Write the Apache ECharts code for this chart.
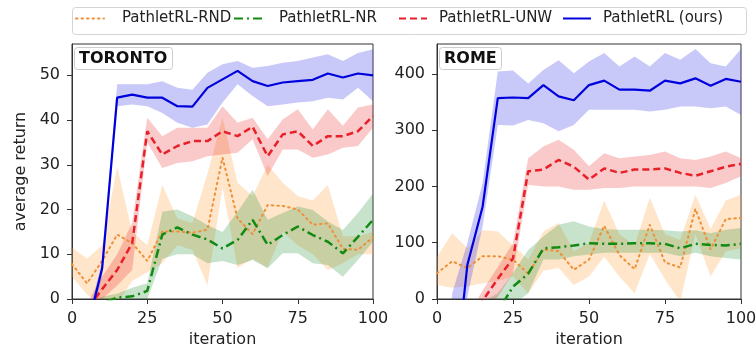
<!DOCTYPE html>
<html><head><meta charset="utf-8">
<script src="https://cdn.jsdelivr.net/npm/echarts@6/dist/echarts.min.js"></script>
<style>html,body{margin:0;padding:0;background:#fff}#c{width:756px;height:350px}</style>
</head><body><div id="c"></div><script>
// ---------- data ----------
const iterations = [0,5,10,15,20,25,30,35,40,45,50,55,60,65,70,75,80,85,90,95,100];
const xTicks = [0,25,50,75,100];
const torontoYTicks = [0,10,20,30,40,50];
const torontoYMax = 57;
const romeYTicks = [0,100,200,300,400];
const romeYMax = 453;
const methodNames = ['PathletRL-RND','PathletRL-NR','PathletRL-UNW','PathletRL (ours)'];
const panelTitles = ['TORONTO','ROME'];

// TORONTO
const torontoRnd    = [7.8,3.5,8.5,14.4,12.5,8.5,15.1,15.1,14.8,15.5,31.6,18,14.5,21,20.8,20,16.6,16.9,11.2,11,13.8];
const torontoRndLo  = [5,1,-1,-1,4,6,8,12,11,3,25,7,9,7,15,12,10,6.5,8,10,10];
const torontoRndHi  = [11.5,9,12,29.5,15,12,25.5,18,17,28,40.5,26,23,30,26,23,22,25.5,14,14,15];
const torontoNr     = [-3,-3,-1,0.3,0.6,1.8,14.4,16,14.4,13.3,11.3,13.2,17.7,12.1,14.3,16.2,14.3,12.8,10.2,13.9,17.7];
const torontoNrLo   = [-5,-5,-3,-1,-0.5,0,9,10,10,8,8.5,7.6,8.7,6.9,10.2,10.2,8,7.6,5,8.7,12.8];
const torontoNrHi   = [-1,-1,0.5,1.2,2.5,3.5,19.5,20,18.5,16.5,15,19.5,24.4,17.7,19.2,20.7,19.9,17.3,15.4,19.2,23.6];
const torontoUnw    = [-5,-2.4,2.2,6.5,12.5,37.5,32.3,34.2,35.3,35.3,37.5,36.4,38.5,31.9,36.8,37.5,34.2,36.4,36.4,37.5,40.9];
const torontoUnwLo  = [-8,-5,0,3,6.5,35,29.3,30.4,30.8,31.9,32.3,32.7,35.7,27.5,33.4,33.4,31.6,32.3,33.8,34.2,38.3];
const torontoUnwHi  = [-2,-1,5,10,17,40.5,36.4,38.3,38.3,38.3,43.1,39.4,40.5,35.7,40.1,42.4,37.9,42.4,38.7,42.8,43.5];
const torontoOurs   = [-10,-6.8,6.8,45,45.7,45,45,43.1,43,47.2,49.1,51,48.7,47.6,48.4,48.7,49,50.4,49.5,50.4,50];
const torontoOursLo = [-12,-8,5,43.1,43.5,43.1,41.6,39.4,38.3,39,43.9,48,45.4,43.1,43.5,43.9,44.2,45,44.6,47.2,44.2];
const torontoOursHi = [-8,-5,8.5,48,48,48,48.7,47.2,46.8,50.6,52.5,53.2,51.7,52.1,52.8,53.2,54,54.7,53.2,55,55.8];

// ROME
const romeRnd    = [46,67,55,76,76,70,45,88,85,52,70,130,78,53,132,65,56,160,88,142,144];
const romeRndLo  = [25,20,22,28,32,40,10,50,55,25,40,75,40,10,80,35,-5,115,40,85,90];
const romeRndHi  = [75,117,90,122,120,95,70,120,135,85,100,175,115,95,180,115,105,185,125,175,185];
const romeNr     = [-60,-55,-50,-40,-22,22,45,90,92,95,99,98,98,99,99,98,90,98,96,95,98];
const romeNrLo   = [-90,-80,-70,-60,-50,-10,10,70,70,76,79,82,82,82,82,82,76,82,76,73,70];
const romeNrHi   = [-30,-20,-10,-5,10,46,87,111,132,138,129,124,123,123,123,122,120,122,117,123,126];
const romeUnw    = [-150,-100,-50,-3,36,72,227,230,247,235,212,232,224,230,230,232,224,219,227,235,240];
const romeUnwLo  = [-200,-150,-90,-25,4,46,203,200,200,194,194,197,197,200,200,200,200,200,197,206,218];
const romeUnwHi  = [-100,-60,-30,15,57,99,250,271,283,265,236,259,250,253,256,262,250,247,253,262,250];
const romeOurs   = [-400,-190,61,164,357,358,357,380,360,353,380,388,372,372,370,388,383,392,379,391,386];
const romeOursLo = [-500,-400,5,129,309,308,318,312,298,309,336,336,336,336,333,336,342,342,339,342,327];
const romeOursHi = [-300,10,100,206,404,406,383,407,424,401,422,437,413,431,413,437,425,444,419,413,444];

// ---------- styles ----------
const FONT = 'DejaVu Sans';
const styles = [
  {line:'#ee9038', band:'rgba(255,160,60,0.28)', width:2, type:[1.5,4], cap:'round'},
  {line:'#118a11', band:'rgba(20,140,40,0.24)', width:2.5, type:[9,4,2,4], cap:'butt'},
  {line:'#e8202a', band:'rgba(235,40,40,0.25)', width:2.5, type:[7,4], cap:'butt'},
  {line:'#0000dd', band:'rgba(60,60,235,0.28)', width:2.2, type:'solid', cap:'butt'}
];

const panels = [
  {lines:[torontoRnd,torontoNr,torontoUnw,torontoOurs], lo:[torontoRndLo,torontoNrLo,torontoUnwLo,torontoOursLo], hi:[torontoRndHi,torontoNrHi,torontoUnwHi,torontoOursHi]},
  {lines:[romeRnd,romeNr,romeUnw,romeOurs], lo:[romeRndLo,romeNrLo,romeUnwLo,romeOursLo], hi:[romeRndHi,romeNrHi,romeUnwHi,romeOursHi]}
];

function bandSeries(pi, lo, hi, color, z) {
  return {
    type:'custom', xAxisIndex:pi, yAxisIndex:pi, silent:true, clip:true, z:z,
    data: iterations.map((x,i)=>[x, lo[i], hi[i]]),
    encode:{x:0, y:[1,2]},
    renderItem: function(params, api) {
      if (params.dataIndex !== 0) return;
      const top = iterations.map((x,i)=>api.coord([x, hi[i]]));
      const bot = iterations.map((x,i)=>api.coord([x, lo[i]])).reverse();
      const cs = params.coordSys;
      return {
        type:'polygon', shape:{points: top.concat(bot)}, style:{fill:color},
        clipPath:{type:'rect', shape:{x:cs.x, y:cs.y, width:cs.width, height:cs.height}}
      };
    }
  };
}

const pair = (arr) => iterations.map((x,i)=>[x, arr[i]]);
const series = [];
panels.forEach((p, pi) => {
  p.lines.forEach((vals, mi) => {
    series.push(bandSeries(pi, p.lo[mi], p.hi[mi], styles[mi].band, 1 + mi*0.01));
  });
  p.lines.forEach((vals, mi) => {
    const st = styles[mi];
    series.push({
      name: methodNames[mi], type:'line', xAxisIndex:pi, yAxisIndex:pi,
      data: pair(vals), symbol:'none', clip:true, z:3+mi*0.01,
      lineStyle:{color:st.line, width:st.width, type:st.type, cap:st.cap},
      itemStyle:{color:st.line}
    });
  });
});

const axisCommon = {
  axisLine:{show:true, lineStyle:{color:'#333', width:1}},
  axisTick:{show:true, inside:false, length:5, lineStyle:{color:'#333'}},
  splitLine:{show:false}
};
const xAxes = [0,1].map(i => Object.assign({}, axisCommon, {
  gridIndex:i, type:'value', min:xTicks[0], max:xTicks[xTicks.length-1], interval:xTicks[1]-xTicks[0],
  axisLabel:{fontFamily:FONT, fontSize:16, color:'#222', margin:12},
  name:'iteration', nameLocation:'middle', nameGap:33,
  nameTextStyle:{fontFamily:FONT, fontSize:16, color:'#222'}
}));
const yTickSets = [[torontoYTicks, torontoYMax],[romeYTicks, romeYMax]];
const yAxes = [0,1].map(i => Object.assign({}, axisCommon, {
  gridIndex:i, type:'value', min:yTickSets[i][0][0], max:yTickSets[i][1],
  interval:yTickSets[i][0][1]-yTickSets[i][0][0],
  axisLabel:{fontFamily:FONT, fontSize:16, color:'#222', margin:12, showMaxLabel:false},
  name: i===0 ? 'average return' : '', nameLocation:'middle', nameGap:43, nameRotate:90,
  nameTextStyle:{fontFamily:FONT, fontSize:16, color:'#222'}
}));

const legendLefts = [75, 233, 398, 562];
const legendPads = [13, 12, 7, 7];
const legends = methodNames.map((n, i) => ({
  data:[n], left:legendLefts[i], top:11, padding:0, itemWidth:28, itemHeight:14,
  selectedMode:false, itemStyle:{opacity:0},
  textStyle:{fontFamily:FONT, fontSize:15, color:'#222', padding:[0,0,0,legendPads[i]]}
}));

const chart = echarts.init(document.getElementById('c'), null, {renderer:'canvas'});
chart.setOption({
  animation:false,
  backgroundColor:'#fff',
  grid:[
    {left:72, top:44, width:301, height:255, outerBoundsMode:'none', containLabel:false, show:true, borderColor:'#333', borderWidth:1, backgroundColor:'transparent'},
    {left:437, top:44, width:304, height:255, outerBoundsMode:'none', containLabel:false, show:true, borderColor:'#333', borderWidth:1, backgroundColor:'transparent'}
  ],
  title: panelTitles.map((t, i) => ({
    text:t, left: i===0 ? 74 : 439, top:47, padding:[4,5,3,5],
    backgroundColor:'#fff', borderColor:'#cccccc', borderWidth:1, borderRadius:3,
    textStyle:{fontFamily:FONT, fontWeight:'bold', fontSize:16, color:'#111'}
  })),
  legend: legends,
  graphic:[{type:'rect', left:70, top:5, shape:{width:674, height:27, r:3}, style:{fill:'none', stroke:'#d4d4d4', lineWidth:1}, z:-1}],
  xAxis: xAxes,
  yAxis: yAxes,
  series: series
});
</script></body></html>
